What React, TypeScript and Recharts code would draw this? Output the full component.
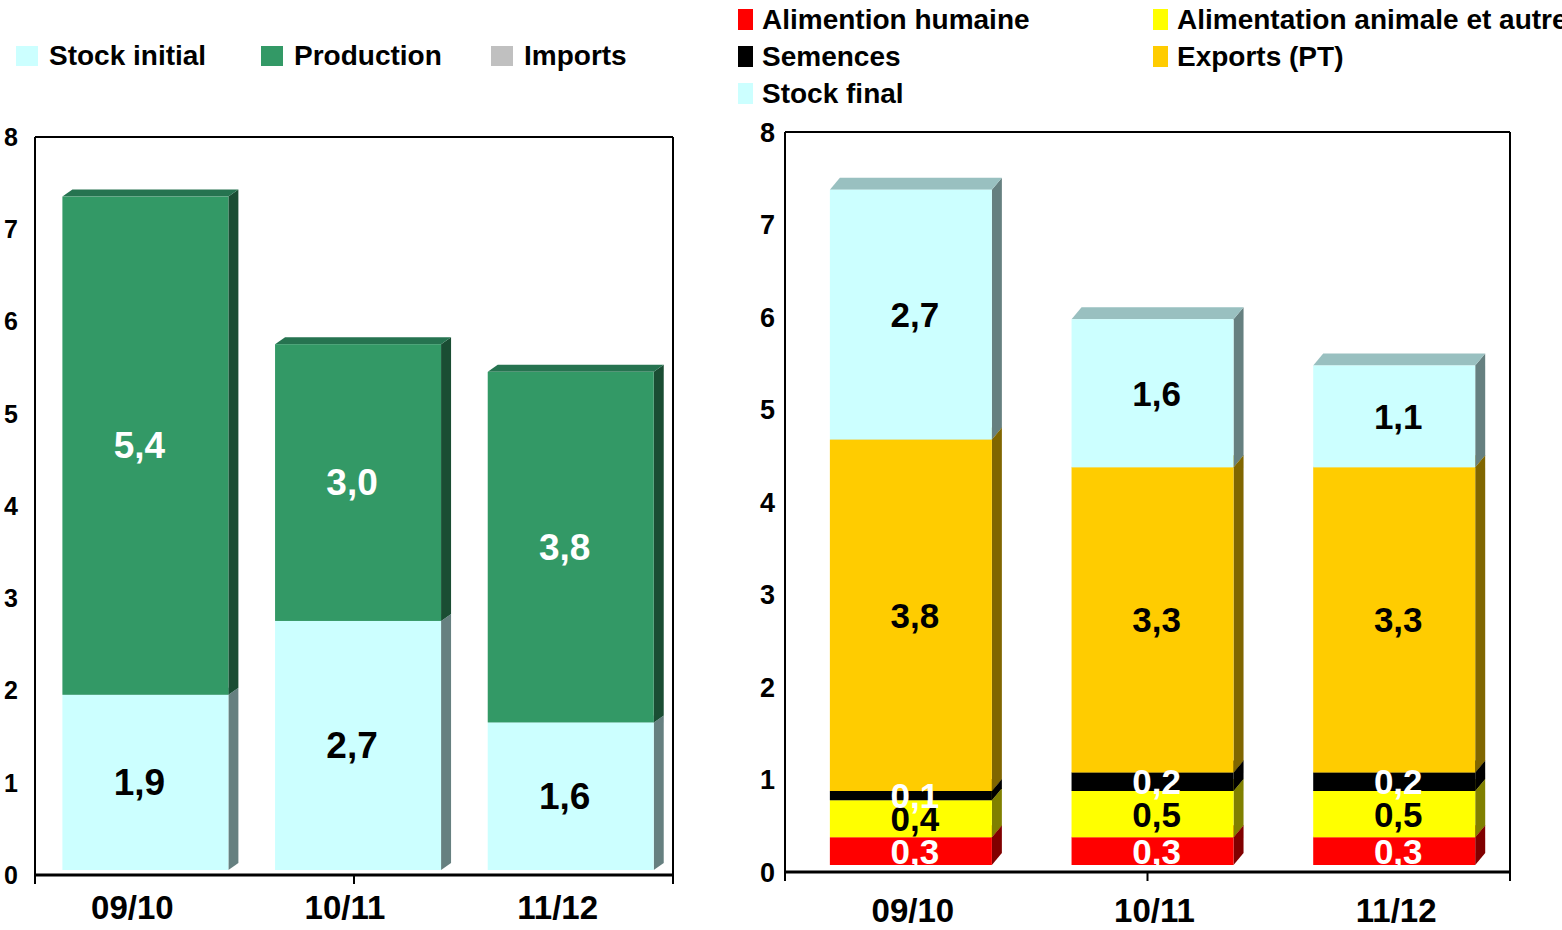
import React from 'react';
import { BarChart, Bar, XAxis, YAxis, Legend, LabelList } from 'recharts';

// ---------- data ----------
const campaigns = ['09/10', '10/11', '11/12'];

// left panel: resources
const stockInitial = [1.9, 2.7, 1.6];
const production = [5.4, 3.0, 3.8];
const imports = [0, 0, 0];

// right panel: uses
const alimHumaine = [0.3, 0.3, 0.3];
const alimAnimale = [0.4, 0.5, 0.5];
const semences = [0.1, 0.2, 0.2];
const exportsPT = [3.8, 3.3, 3.3];
const stockFinal = [2.7, 1.6, 1.1];

const yTicks = [0, 1, 2, 3, 4, 5, 6, 7, 8];
const boundTicks = [0, 1, 2, 3];

const leftOrder = ['stockInitial', 'production', 'imports'];
const rightOrder = ['alimHumaine', 'alimAnimale', 'semences', 'exportsPT', 'stockFinal'];

const leftData = campaigns.map((c, i) => ({
  cat: c,
  stockInitial: stockInitial[i],
  production: production[i],
  imports: imports[i],
}));

const rightData = campaigns.map((c, i) => ({
  cat: c,
  alimHumaine: alimHumaine[i],
  alimAnimale: alimAnimale[i],
  semences: semences[i],
  exportsPT: exportsPT[i],
  stockFinal: stockFinal[i],
}));

// ---------- styles ----------
const FONT = '"Liberation Sans", Arial, Helvetica, sans-serif';

const COLORS = {
  cyan: '#CCFFFF', cyanSide: '#668080', cyanTop: '#99C0C0',
  green: '#339966', greenSide: '#1A4D33', greenTop: '#267350',
  gray: '#C0C0C0', graySide: '#606060', grayTop: '#909090',
  red: '#FF0000', redSide: '#800000', redTop: '#C00000',
  yellow: '#FFFF00', yellowSide: '#808000', yellowTop: '#C0C000',
  black: '#000000', blackSide: '#000000', blackTop: '#000000',
  gold: '#FFCC00', goldSide: '#806600', goldTop: '#C09900',
};

const fmt = (v: number) => v.toFixed(1).replace('.', ',');

function make3D(dx: number, dy: number, ox: number, oy: number, side: string, top: string) {
  return (props: any) => {
    const { x, y, width, height, fill } = props;
    if (!height || height <= 0 || !width) return <g />;
    const X = x + ox;
    const Y = y + oy;
    return (
      <g>
        <polygon
          points={`${X + width},${Y} ${X + width + dx},${Y - dy} ${X + width + dx},${Y + height - dy} ${X + width},${Y + height}`}
          fill={side}
        />
        <polygon
          points={`${X},${Y} ${X + dx},${Y - dy} ${X + width + dx},${Y - dy} ${X + width},${Y}`}
          fill={top}
        />
        <rect x={X} y={Y} width={width} height={height} fill={fill} />
      </g>
    );
  };
}

function makeLabel(color: string, ox: number, oy: number, size: number) {
  return (p: any) => {
    const { x, y, width, height, value } = p;
    if (value == null || value === 0) return null;
    return (
      <text
        x={x + width / 2 + ox}
        y={y + height / 2 + oy}
        fill={color}
        textAnchor="middle"
        dominantBaseline="central"
        style={{ font: `bold ${size}px ${FONT}` }}
      >
        {fmt(Number(value))}
      </text>
    );
  };
}

function makeCatTick(dx: number, dy: number, size: number) {
  return (p: any) => (
    <text
      x={p.x + dx}
      y={p.y + dy}
      textAnchor="middle"
      dominantBaseline="central"
      fill="#000"
      style={{ font: `bold ${size}px ${FONT}` }}
    >
      {p.payload.value}
    </text>
  );
}

const emptyTick = () => <g />;

const sortBy = (payload: any[], order: string[]) =>
  [...payload].sort((a, b) => order.indexOf(a.dataKey) - order.indexOf(b.dataKey));

// ---------- legends ----------
const LeftLegend = (props: any) => {
  const payload = sortBy(props.payload || [], leftOrder);
  const widths = [245, 230, 200];
  return (
    <div style={{ display: 'flex', flexDirection: 'row', fontFamily: FONT }}>
      {payload.map((e: any, i: number) => (
        <div key={i} style={{ width: widths[i] || 200, flexShrink: 0, display: 'flex', alignItems: 'center', height: 30 }}>
          <span style={{ display: 'inline-block', flexShrink: 0, width: 22, height: 20, background: e.color, marginRight: 11 }} />
          <span style={{ fontWeight: 'bold', fontSize: 28, color: '#000', whiteSpace: 'nowrap' }}>{e.value}</span>
        </div>
      ))}
    </div>
  );
};

const RightLegend = (props: any) => {
  const payload = sortBy(props.payload || [], rightOrder);
  return (
    <div style={{ display: 'grid', gridTemplateColumns: '415px 415px', gridAutoRows: '37px', fontFamily: FONT }}>
      {payload.map((e: any, i: number) => (
        <div key={i} style={{ display: 'flex', alignItems: 'center', height: 37, overflow: 'visible' }}>
          <span style={{ display: 'inline-block', flexShrink: 0, width: 15, height: 21, background: e.color, marginRight: 9 }} />
          <span style={{ fontWeight: 'bold', fontSize: 28, color: '#000', whiteSpace: 'nowrap' }}>{e.value}</span>
        </div>
      ))}
    </div>
  );
};

// ---------- app ----------
export default function App() {
  const L = { dx: 10, dy: 7, ox: 4, oy: -5, lx: -2 };
  const R = { dx: 10, dy: 12, ox: 5, oy: -7, lx: 9 };
  const yTickStyleL = { fontSize: 25, fontWeight: 'bold', fill: '#000', fontFamily: FONT };
  const yTickStyleR = { fontSize: 27, fontWeight: 'bold', fill: '#000', fontFamily: FONT };

  return (
    <div style={{ position: 'absolute', left: 0, top: 0, width: 1562, height: 930, overflow: 'hidden', background: '#fff' }}>
      <div style={{ position: 'absolute', left: 0, top: 0 }}>
        <BarChart
          width={700}
          height={930}
          data={leftData}
          margin={{ top: 136, right: 26, bottom: 0, left: 0 }}
          barCategoryGap="11%"
        >
          <XAxis
            xAxisId="b"
            type="number"
            domain={[0, 3]}
            ticks={boundTicks}
            allowDataOverflow
            height={1}
            tick={emptyTick}
            tickSize={9}
            tickLine={{ stroke: '#000', strokeWidth: 2 }}
            axisLine={{ stroke: '#000', strokeWidth: 3 }}
          />
          <XAxis
            xAxisId="cat"
            dataKey="cat"
            height={54}
            axisLine={false}
            tickLine={false}
            tickSize={0}
            tickMargin={0}
            tick={makeCatTick(-9, 31, 33)}
          />
          <XAxis
            xAxisId="top"
            orientation="top"
            type="number"
            domain={[0, 3]}
            allowDataOverflow
            height={1}
            tick={false}
            tickLine={false}
            axisLine={{ stroke: '#000', strokeWidth: 2 }}
          />
          <YAxis
            domain={[0, 8]}
            ticks={yTicks}
            width={35}
            interval={0}
            tickLine={false}
            tickSize={0}
            tickMargin={17}
            tick={yTickStyleL}
            axisLine={{ stroke: '#000', strokeWidth: 2 }}
          />
          <YAxis
            yAxisId="r"
            orientation="right"
            domain={[0, 8]}
            allowDataOverflow
            width={1}
            tick={false}
            tickLine={false}
            axisLine={{ stroke: '#000', strokeWidth: 2 }}
          />
          <Legend
            layout="vertical"
            align="center"
            verticalAlign="middle"
            wrapperStyle={{ top: 41, left: 16, width: 680 }}
            content={LeftLegend}
          />
          <Bar xAxisId="cat" dataKey="stockInitial" name="Stock initial" stackId="a" fill={COLORS.cyan}
            isAnimationActive={false}
            shape={make3D(L.dx, L.dy, L.ox, L.oy, COLORS.cyanSide, COLORS.cyanTop)}>
            <LabelList dataKey="stockInitial" content={makeLabel('#000', L.lx, L.oy, 37)} />
          </Bar>
          <Bar xAxisId="cat" dataKey="production" name="Production" stackId="a" fill={COLORS.green}
            isAnimationActive={false}
            shape={make3D(L.dx, L.dy, L.ox, L.oy, COLORS.greenSide, COLORS.greenTop)}>
            <LabelList dataKey="production" content={makeLabel('#fff', L.lx, L.oy, 37)} />
          </Bar>
          <Bar xAxisId="cat" dataKey="imports" name="Imports" stackId="a" fill={COLORS.gray}
            isAnimationActive={false}
            shape={make3D(L.dx, L.dy, L.ox, L.oy, COLORS.graySide, COLORS.grayTop)} />
        </BarChart>
      </div>

      <div style={{ position: 'absolute', left: 720, top: 0 }}>
        <BarChart
          width={842}
          height={930}
          data={rightData}
          margin={{ top: 131, right: 51, bottom: 0, left: 0 }}
          barCategoryGap="16.5%"
        >
          <XAxis
            xAxisId="b"
            type="number"
            domain={[0, 3]}
            ticks={boundTicks}
            allowDataOverflow
            height={1}
            tick={emptyTick}
            tickSize={9}
            tickLine={{ stroke: '#000', strokeWidth: 2 }}
            axisLine={{ stroke: '#000', strokeWidth: 3 }}
          />
          <XAxis
            xAxisId="cat"
            dataKey="cat"
            height={57}
            axisLine={false}
            tickLine={false}
            tickSize={0}
            tickMargin={0}
            tick={makeCatTick(7, 37, 33)}
          />
          <XAxis
            xAxisId="top"
            orientation="top"
            type="number"
            domain={[0, 3]}
            allowDataOverflow
            height={1}
            tick={false}
            tickLine={false}
            axisLine={{ stroke: '#000', strokeWidth: 2 }}
          />
          <YAxis
            domain={[0, 8]}
            ticks={yTicks}
            width={65}
            interval={0}
            tickLine={false}
            tickSize={0}
            tickMargin={10}
            tick={yTickStyleR}
            axisLine={{ stroke: '#000', strokeWidth: 2 }}
          />
          <YAxis
            yAxisId="r"
            orientation="right"
            domain={[0, 8]}
            allowDataOverflow
            width={1}
            tick={false}
            tickLine={false}
            axisLine={{ stroke: '#000', strokeWidth: 2 }}
          />
          <Legend
            layout="vertical"
            align="center"
            verticalAlign="middle"
            wrapperStyle={{ top: 1, left: 18, width: 900 }}
            content={RightLegend}
          />
          <Bar xAxisId="cat" dataKey="alimHumaine" name="Alimention humaine" stackId="a" fill={COLORS.red}
            isAnimationActive={false}
            shape={make3D(R.dx, R.dy, R.ox, R.oy, COLORS.redSide, COLORS.redTop)}>
            <LabelList dataKey="alimHumaine" content={makeLabel('#fff', R.lx, R.oy, 35)} />
          </Bar>
          <Bar xAxisId="cat" dataKey="alimAnimale" name="Alimentation animale et autres" stackId="a" fill={COLORS.yellow}
            isAnimationActive={false}
            shape={make3D(R.dx, R.dy, R.ox, R.oy, COLORS.yellowSide, COLORS.yellowTop)}>
            <LabelList dataKey="alimAnimale" content={makeLabel('#000', R.lx, R.oy, 35)} />
          </Bar>
          <Bar xAxisId="cat" dataKey="semences" name="Semences" stackId="a" fill={COLORS.black}
            isAnimationActive={false}
            shape={make3D(R.dx, R.dy, R.ox, R.oy, COLORS.blackSide, COLORS.blackTop)}>
            <LabelList dataKey="semences" content={makeLabel('#fff', R.lx, R.oy, 35)} />
          </Bar>
          <Bar xAxisId="cat" dataKey="exportsPT" name="Exports (PT)" stackId="a" fill={COLORS.gold}
            isAnimationActive={false}
            shape={make3D(R.dx, R.dy, R.ox, R.oy, COLORS.goldSide, COLORS.goldTop)}>
            <LabelList dataKey="exportsPT" content={makeLabel('#000', R.lx, R.oy, 35)} />
          </Bar>
          <Bar xAxisId="cat" dataKey="stockFinal" name="Stock final" stackId="a" fill={COLORS.cyan}
            isAnimationActive={false}
            shape={make3D(R.dx, R.dy, R.ox, R.oy, COLORS.cyanSide, COLORS.cyanTop)}>
            <LabelList dataKey="stockFinal" content={makeLabel('#000', R.lx, R.oy, 35)} />
          </Bar>
        </BarChart>
      </div>
    </div>
  );
}
